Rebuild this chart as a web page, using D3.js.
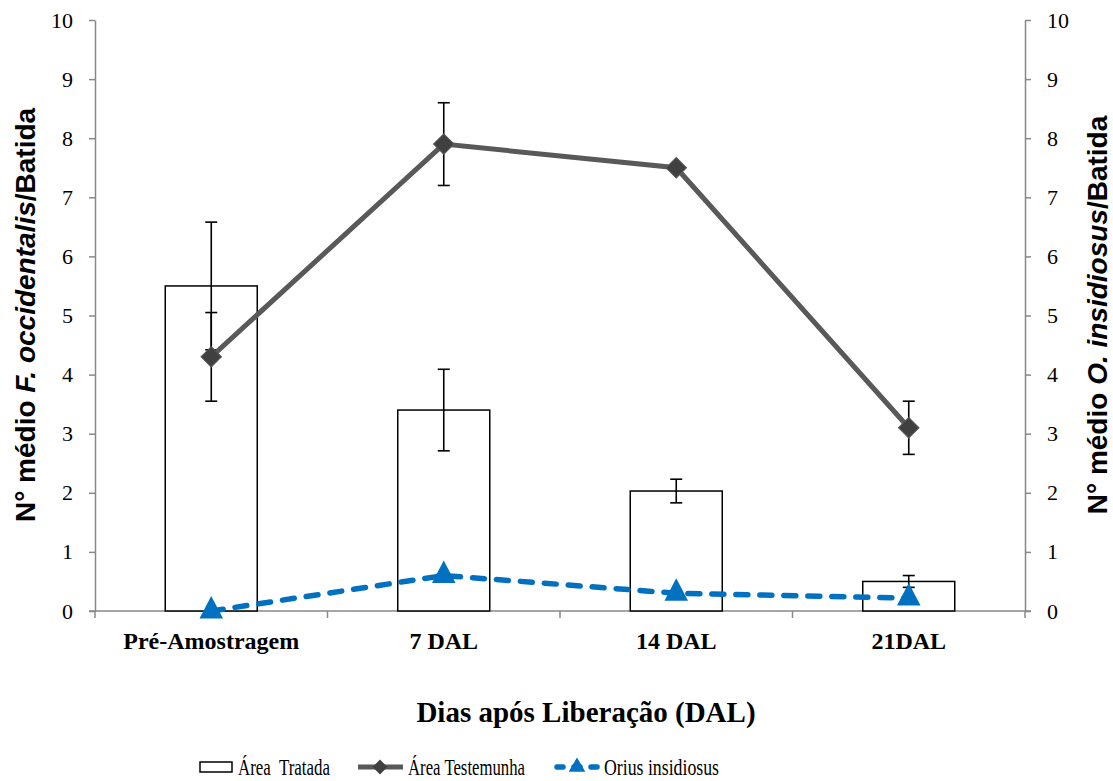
<!DOCTYPE html>
<html>
<head>
<meta charset="utf-8">
<script src="https://cdn.jsdelivr.net/npm/d3@7"></script>
<style>
  body { margin: 0; background: #fff; }
  svg text { fill: #000; }
</style>
</head>
<body>
<svg id="chart" width="1113" height="781"></svg>
<script>
// categories on the x axis
var categories = ['Pré-Amostragem', '7 DAL', '14 DAL', '21DAL'];
// Área Tratada (bars) and its error
var tratada = [5.5, 3.4, 2.03, 0.5];
var tratadaErr = [1.08, 0.69, 0.2, 0.1];
// Área Testemunha (grey line) and its error
var testemunha = [4.3, 7.9, 7.5, 3.1];
var testemunhaErr = [0.75, 0.7, 0, 0.45];
// Orius insidiosus (blue dashed, right axis)
var orius = [0, 0.6, 0.3, 0.22];
var yTicks = [0, 1, 2, 3, 4, 5, 6, 7, 8, 9, 10];

var svg = d3.select('#chart');
var mLeft = 95, mRight = 1025, mTop = 20, mBottom = 611;

var x = d3.scaleBand().domain(categories).range([mLeft, mRight]).paddingInner(0).paddingOuter(0);
var y = d3.scaleLinear().domain([0, 10]).range([mBottom, mTop]);
var y2 = d3.scaleLinear().domain([0, 10]).range([mBottom, mTop]);
var cx = function(d){ return x(d) + x.bandwidth() / 2; };
var barW = 92;

var axisColor = '#888';
var serif = '"Liberation Serif", "Times New Roman", serif';
var sans = '"Liberation Sans", Arial, sans-serif';

// left and right axes
var gl = svg.append('g').attr('transform', 'translate(' + mLeft + ',0)')
  .call(d3.axisLeft(y).tickValues(yTicks).tickSize(6).tickSizeOuter(0).tickPadding(16));
var gr = svg.append('g').attr('transform', 'translate(' + mRight + ',0)')
  .call(d3.axisRight(y2).tickValues(yTicks).tickSize(6).tickSizeOuter(0).tickPadding(16));
[gl, gr].forEach(function(g){
  g.attr('font-family', serif).attr('font-size', 22);
  g.select('.domain').attr('stroke', axisColor).attr('stroke-width', 1.5);
  g.selectAll('.tick line').attr('stroke', axisColor).attr('stroke-width', 1.5);
  g.selectAll('.tick text').attr('font-family', serif).attr('font-size', 22).attr('fill', '#000');
});

// x axis baseline with ticks at category boundaries
var bounds = categories.map(function(d){ return x(d); }).concat([mRight]);
svg.append('line').attr('x1', mLeft - 6).attr('x2', mRight + 6).attr('y1', mBottom).attr('y2', mBottom)
  .attr('stroke', axisColor).attr('stroke-width', 1.5);
svg.selectAll('.xtick').data(bounds).enter().append('line')
  .attr('x1', function(d){ return d; }).attr('x2', function(d){ return d; })
  .attr('y1', mBottom).attr('y2', mBottom + 7)
  .attr('stroke', axisColor).attr('stroke-width', 1.5);
svg.selectAll('.xlabel').data(categories).enter().append('text')
  .attr('x', cx).attr('y', mBottom + 38)
  .attr('text-anchor', 'middle')
  .attr('font-family', serif).attr('font-weight', 'bold').attr('font-size', 24)
  .text(function(d){ return d; });

// bars
svg.selectAll('.bar').data(categories).enter().append('rect')
  .attr('x', function(d){ return cx(d) - barW / 2; })
  .attr('y', function(d, i){ return y(tratada[i]); })
  .attr('width', barW)
  .attr('height', function(d, i){ return y(0) - y(tratada[i]); })
  .attr('fill', '#fff').attr('stroke', '#000').attr('stroke-width', 1.5);

function errorBars(vals, errs){
  var g = svg.append('g').attr('stroke', '#000').attr('stroke-width', 1.6);
  categories.forEach(function(c, i){
    if (!errs[i]) return;
    var xx = cx(c), hi = y(vals[i] + errs[i]), lo = y(vals[i] - errs[i]);
    g.append('line').attr('x1', xx).attr('x2', xx).attr('y1', hi).attr('y2', lo);
    g.append('line').attr('x1', xx - 6).attr('x2', xx + 6).attr('y1', hi).attr('y2', hi);
    g.append('line').attr('x1', xx - 6).attr('x2', xx + 6).attr('y1', lo).attr('y2', lo);
  });
}
errorBars(tratada, tratadaErr);
errorBars(testemunha, testemunhaErr);

// Área Testemunha line
var line = d3.line().x(function(d, i){ return cx(categories[i]); }).y(function(d){ return y(d); });
svg.append('path').datum(testemunha).attr('d', line)
  .attr('fill', 'none').attr('stroke', '#595959').attr('stroke-width', 5);
var diamond = d3.symbol().type(d3.symbolSquare).size(210);
svg.selectAll('.diamond').data(testemunha).enter().append('path')
  .attr('d', diamond)
  .attr('transform', function(d, i){ return 'translate(' + cx(categories[i]) + ',' + y(d) + ') rotate(45)'; })
  .attr('fill', '#404040').attr('stroke', '#595959').attr('stroke-width', 1);

// Orius line
var line2 = d3.line().x(function(d, i){ return cx(categories[i]); }).y(function(d){ return y2(d); });
svg.append('path').datum(orius).attr('d', line2)
  .attr('fill', 'none').attr('stroke', '#0070C0').attr('stroke-width', 5.5)
  .attr('stroke-dasharray', '12,12').attr('stroke-linecap', 'round');
var tri = d3.symbol().type(d3.symbolTriangle).size(240);
svg.selectAll('.tri').data(orius).enter().append('path')
  .attr('d', tri)
  .attr('transform', function(d, i){ return 'translate(' + cx(categories[i]) + ',' + y2(d) + ') scale(1,1.1)'; })
  .attr('fill', '#0070C0');

// axis titles
var midY = 315;
var lt = svg.append('text')
  .attr('transform', 'translate(35,' + midY + ') rotate(-90)')
  .attr('text-anchor', 'middle')
  .attr('font-family', sans).attr('font-weight', 'bold').attr('font-size', 28);
lt.append('tspan').text('N° médio ');
lt.append('tspan').attr('font-style', 'italic').text('F. occidentalis');
lt.append('tspan').text('/Batida');

var rt = svg.append('text')
  .attr('transform', 'translate(1107,' + midY + ') rotate(-90)')
  .attr('text-anchor', 'middle')
  .attr('font-family', sans).attr('font-weight', 'bold').attr('font-size', 28);
rt.append('tspan').text('N° médio ');
rt.append('tspan').attr('font-style', 'italic').text('O. insidiosus');
rt.append('tspan').text('/Batida');

svg.append('text').attr('x', 586).attr('y', 722)
  .attr('text-anchor', 'middle')
  .attr('font-family', serif).attr('font-weight', 'bold').attr('font-size', 29)
  .text('Dias após Liberação (DAL)');

// legend
var ly = 767;
var leg = svg.append('g');
function legText(xp, txt, len){
  leg.append('text').attr('x', xp).attr('y', ly + 8).attr('font-family', serif).attr('font-size', 24)
    .attr('xml:space', 'preserve').attr('textLength', len).attr('lengthAdjust', 'spacingAndGlyphs')
    .text(txt);
}
leg.append('rect').attr('x', 200).attr('y', ly - 5).attr('width', 32).attr('height', 10)
  .attr('fill', '#fff').attr('stroke', '#000').attr('stroke-width', 1.5);
legText(238, 'Área  Tratada', 92);
leg.append('line').attr('x1', 358).attr('x2', 403).attr('y1', ly).attr('y2', ly)
  .attr('stroke', '#595959').attr('stroke-width', 5);
leg.append('path').attr('d', d3.symbol().type(d3.symbolSquare).size(110))
  .attr('transform', 'translate(380,' + ly + ') rotate(45)').attr('fill', '#404040');
legText(408, 'Área Testemunha', 117);
leg.append('line').attr('x1', 557).attr('x2', 597).attr('y1', ly).attr('y2', ly)
  .attr('stroke', '#0070C0').attr('stroke-width', 5.5)
  .attr('stroke-dasharray', '6,11').attr('stroke-linecap', 'round');
leg.append('path').attr('d', d3.symbol().type(d3.symbolTriangle).size(120))
  .attr('transform', 'translate(577,' + ly + ')').attr('fill', '#0070C0');
legText(604, 'Orius insidiosus', 115);
</script>
</body>
</html>
